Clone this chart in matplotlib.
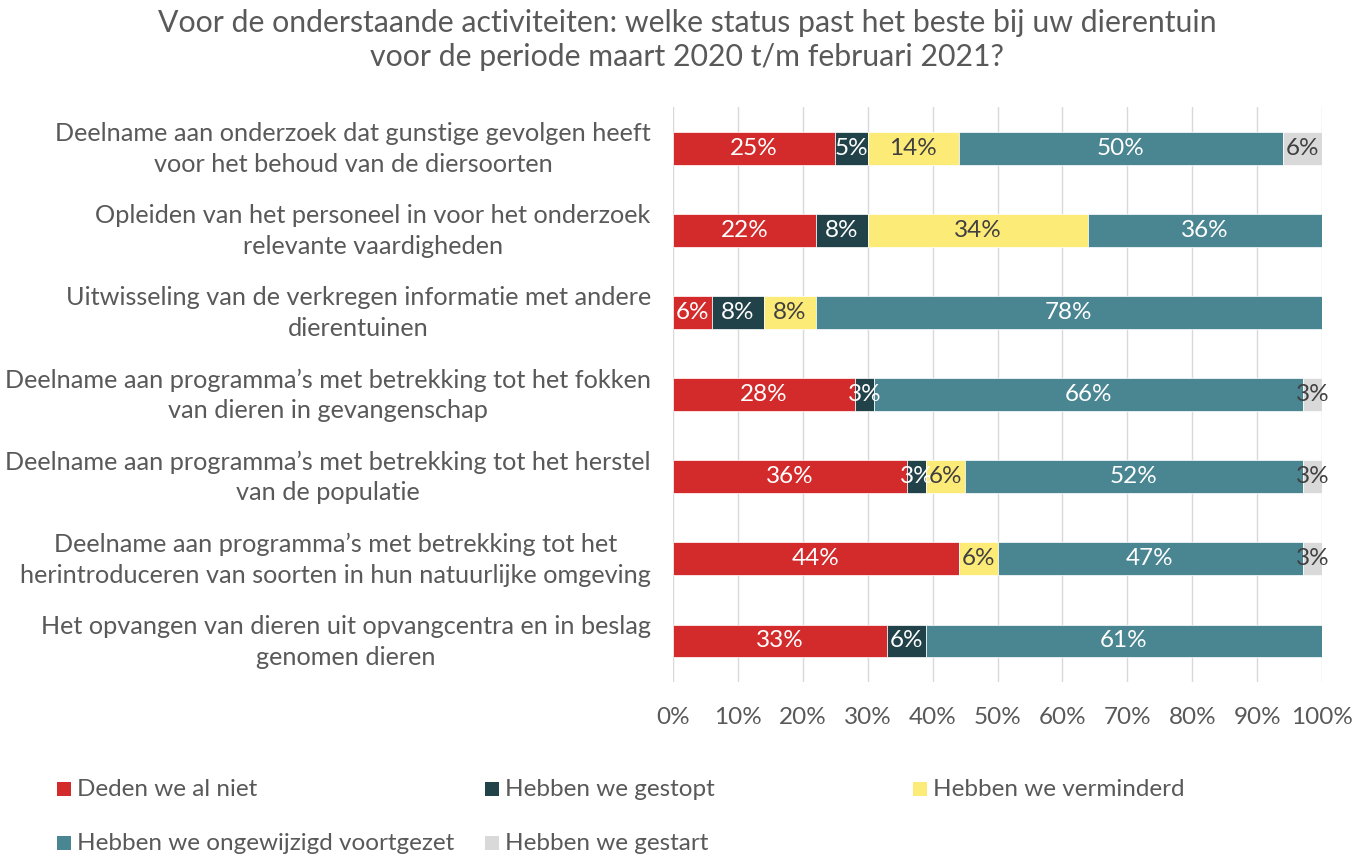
import matplotlib
matplotlib.use("Agg")
import matplotlib.pyplot as plt
import matplotlib.transforms as mtransforms
from matplotlib.patches import Rectangle
import numpy as np

plt.rcParams['font.family'] = ['Lato', 'DejaVu Sans']
plt.rcParams['font.weight'] = 'normal'

title = "Voor de onderstaande activiteiten: welke status past het beste bij uw dierentuin\nvoor de periode maart 2020 t/m februari 2021?"

categories = [
    "Deelname aan onderzoek dat gunstige gevolgen heeft\nvoor het behoud van de diersoorten",
    "Opleiden van het personeel in voor het onderzoek\nrelevante vaardigheden",
    "Uitwisseling van de verkregen informatie met andere\ndierentuinen",
    "Deelname aan programma\u2019s met betrekking tot het fokken\nvan dieren in gevangenschap",
    "Deelname aan programma\u2019s met betrekking tot het herstel\nvan de populatie",
    "Deelname aan programma\u2019s met betrekking tot het\nherintroduceren van soorten in hun natuurlijke omgeving",
    "Het opvangen van dieren uit opvangcentra en in beslag\ngenomen dieren",
]

series_names = ["Deden we al niet", "Hebben we gestopt", "Hebben we verminderd",
                "Hebben we ongewijzigd voortgezet", "Hebben we gestart"]

deden_niet = [25, 22, 6, 28, 36, 44, 33]
gestopt = [5, 8, 8, 3, 3, 0, 6]
verminderd = [14, 34, 8, 0, 6, 6, 0]
ongewijzigd = [50, 36, 78, 66, 52, 47, 61]
gestart = [6, 0, 0, 3, 3, 3, 0]

series = [deden_niet, gestopt, verminderd, ongewijzigd, gestart]
colors = ["#D32B2B", "#22424A", "#FDEB78", "#4A8592", "#D9D9D9"]
text_colors = ["white", "white", "#404040", "white", "#404040"]

xticks = [0, 10, 20, 30, 40, 50, 60, 70, 80, 90, 100]
xtick_labels = [f"{v}%" for v in xticks]

FS = 17.5
W, H = 1367, 857
fig = plt.figure(figsize=(W / 100, H / 100), dpi=100)
ax = fig.add_axes([673 / W, 1 - 682 / H, (1322 - 673) / W, (682 - 107) / H])

y = np.arange(len(categories))
left = np.zeros(len(categories))
for vals, col, tcol in zip(series, colors, text_colors):
    vals = np.array(vals, dtype=float)
    ax.barh(y, vals, left=left, height=0.4, color=col, edgecolor="white", linewidth=0.5, zorder=3)
    for yi, (l, v) in enumerate(zip(left, vals)):
        if v > 0:
            ax.text(l + v / 2, yi, f"{int(v)}%", ha="center", va="center",
                    color=tcol, fontsize=FS, zorder=4)
    left += vals

ax.set_xlim(0, 100)
ax.set_ylim(len(categories) - 0.5, -0.5)
ax.set_xticks(xticks)
ax.set_xticklabels(xtick_labels, fontsize=FS, color="#595959")
ax.set_yticks(y)
ax.set_yticklabels(categories, fontsize=18.2, color="#595959", linespacing=1.4)
ax.tick_params(axis="both", length=0)
ax.tick_params(axis="x", pad=18)
ax.tick_params(axis="y", pad=16)
offset = mtransforms.ScaledTranslation(0, 5 / 100, fig.dpi_scale_trans)
for lbl in ax.get_yticklabels():
    lbl.set_multialignment("center")
    lbl.set_transform(lbl.get_transform() + offset)
for s in ax.spines.values():
    s.set_visible(False)
ax.grid(axis="x", color="#D9D9D9", linewidth=1, zorder=0)
ax.set_axisbelow(True)

fig.text(687 / W, 1 - 40 / H, title, ha="center", va="center", fontsize=21.8,
         color="#595959", linespacing=1.25)

# legend
leg_pos = [(57, 789), (485, 789), (913, 789), (57, 843), (485, 843)]
for (px, py), name, col in zip(leg_pos, series_names, colors):
    fig.patches.append(Rectangle((px / W, 1 - (py + 7) / H), 14 / W, 14 / H,
                                 transform=fig.transFigure, facecolor=col, edgecolor="none"))
    fig.text((px + 20) / W, 1 - (py + 1) / H, name, ha="left", va="center", fontsize=FS, color="#595959")

fig.savefig("out.png", dpi=100)
